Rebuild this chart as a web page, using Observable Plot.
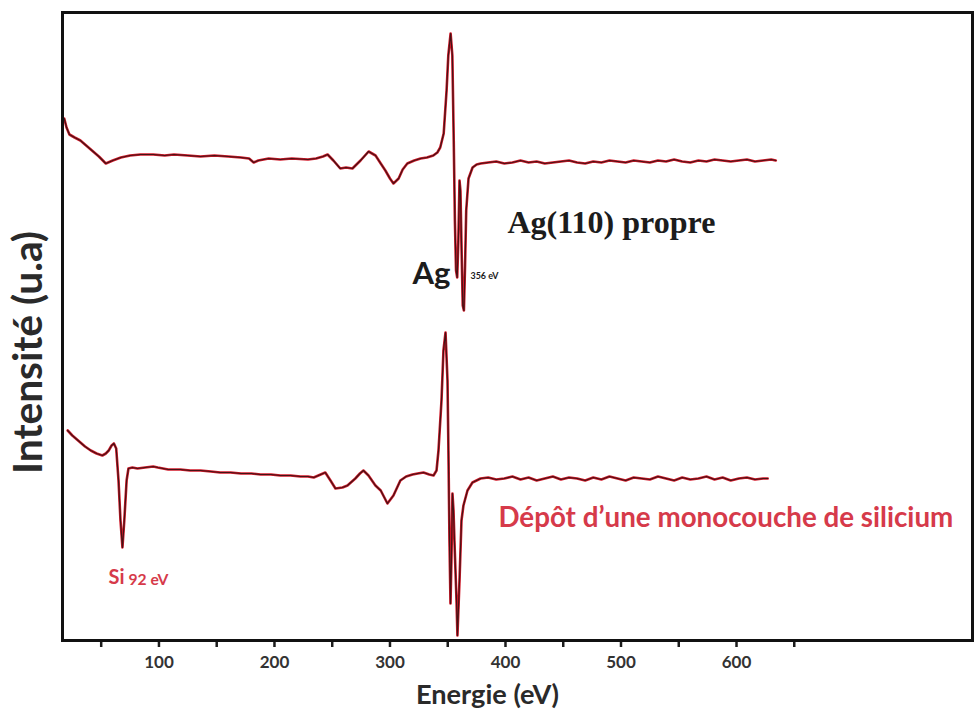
<!DOCTYPE html>
<html>
<head>
<meta charset="utf-8">
<script src="https://cdn.jsdelivr.net/npm/d3@7"></script>
<script src="https://cdn.jsdelivr.net/npm/@observablehq/plot@0.6"></script>
<style>
  html, body { margin: 0; padding: 0; background: #fff; }
  svg { display: block; }
</style>
</head>
<body>
<div id="chart"></div>
<script>
// ---- Data ----
// Upper spectrum: Ag(110) propre
const topEnergy = [18,20,22.5,27,32,37,42,48,54,60,67,75,84,95,105,113,125,136,148,160,171,178,182,186,195,205,215,229,236,242,246,251,257,262,267.5,274.5,281.5,287.5,292,296,300,303,307.5,311,315,321,326.5,332,337.5,341,343.5,346.5,349,350.5,352.5,354,355.2,356.2,357.2,358.2,359.2,360.2,361,362,363,364,365,366,368,371.5,375,378.5,385,392,399,406,413,420,427,434,441,448,455,462,469,476,483,490,497,504,511,518,525,532,539,546,553,560,567,574,581,588,595,602,609,616,623,630,634];
const topIntensity = [522,513,506,503,500,495,490,484,477,480,483,485,486,486,485,486,485,484,485,484,483,482,478,480,482,481,482,481,482,484,486,480,472,473,472,480,489,485,477,470,462,457,462,471,477,480,482,483,485,488,493,507,550,585,607,585,500,420,370,363,400,460,450,390,335,330,375,430,462,473,476,477,478,479,477,478,480,478,479,477,478,479,480,478,477,479,478,480,479,478,480,479,478,480,479,481,479,478,480,479,481,480,479,480,481,479,480,481,480];

// Lower spectrum: Dépôt d'une monocouche de silicium
const botEnergy = [21,25,29,32,36,41,46,51,54,56.5,59,61,63,65,66.7,68.4,70,72,73.6,77,81.4,88,95,99,108,118.6,127,136,145,153,162,171,180,188,197,205,214,222.5,229,234,240,244,248.5,252.8,258.9,263.2,270,274,277,281.4,287.4,292,297.8,303,309,314,319.5,324,329,334,337.7,340.3,342,344.6,346.3,348.1,349.8,350.6,351.5,352.4,353.2,354.1,355,355.8,357.6,358.4,360.2,361.9,363.6,367.1,371.4,378.4,385,392,399,406,413,420,427,434,441,448,455,462,469,476,483,490,497,504,511,518,525,532,539,546,553,560,567,574,581,588,595,602,609,616,623,627];
const botIntensity = [210,205,201,198,194,190,187,185,187,190,195,197,192,160,120,93,120,160,172,173,172,173,174,173,171,171,170,170,169,168,168,167,167,166,166,165,165,164,164,163,166,168,160,152,153,155,162,167,170,165,155,150,137,145,160,164,166,167,168,166,165,170,190,240,290,308,260,190,100,37,80,147,130,100,40,5,60,120,135,150,158,162,163,161,162,164,161,163,160,162,164,161,163,162,160,163,161,164,162,160,163,162,161,164,162,160,163,161,162,164,161,163,160,162,163,161,162,162];

// Axis ticks and labels
const xTicks = [50,100,150,200,250,300,350,400,450,500,550,600,650];
const xTickLabels = ["","100","","200","","300","","400","","500","","600",""];
const xTitle = "Energie (eV)";
const yTitle = "Intensité (u.a)";

// Annotations (text, energy, intensity)
const annoLabels = ["Ag(110) propre", "Ag", "356 eV", "Dépôt d’une monocouche de silicium", "Si", "92 eV"];
const annoEnergy = [401.7, 319.5, 369.7, 393.9, 56.3, 73.6];
const annoIntensity = [418, 366, 364, 122, 63, 61];

// ---- Build ----
const topData = topEnergy.map((E, i) => ({E, I: topIntensity[i]}));
const botData = botEnergy.map((E, i) => ({E, I: botIntensity[i]}));
const anno = annoLabels.map((t, i) => ({t, E: annoEnergy[i], I: annoIntensity[i]}));

const RED_LINE = "#d11a2a";
const DARK_LINE = "#2b1212";
const RED_TEXT = "#d63a4a";
const INK = "#1c1c1c";
const SANS = "Lato, 'Open Sans', sans-serif";
const SERIF = "'Liberation Serif', 'DejaVu Serif', serif";

const plot = Plot.plot({
  width: 974,
  height: 709,
  marginLeft: 62,
  marginRight: 2,
  marginTop: 12,
  marginBottom: 69,
  x: {domain: [16.5, 804.3], label: null},
  y: {domain: [0, 628], axis: null},
  style: {fontFamily: SANS, background: "#fff", color: INK},
  marks: [
    Plot.axisX({
      ticks: xTicks,
      tickFormat: d => xTickLabels[xTicks.indexOf(d)],
      tickSize: 7,
      tickPadding: 8,
      fontSize: 17,
      fontWeight: "bold",
      strokeWidth: 2.5,
      fill: "#333",
      label: null
    }),
    Plot.line(topData, {x: "E", y: "I", stroke: RED_LINE, strokeWidth: 2.6, curve: "linear"}),
    Plot.line(topData, {x: "E", y: "I", stroke: DARK_LINE, strokeWidth: 1.2, strokeOpacity: 0.85, curve: "linear"}),
    Plot.line(botData, {x: "E", y: "I", stroke: RED_LINE, strokeWidth: 2.6, curve: "linear"}),
    Plot.line(botData, {x: "E", y: "I", stroke: DARK_LINE, strokeWidth: 1.2, strokeOpacity: 0.85, curve: "linear"}),
    Plot.frame({stroke: "#111", strokeWidth: 3}),
    // axis titles
    Plot.text([xTitle], {x: 384.4, frameAnchor: "bottom", textAnchor: "middle", lineAnchor: "middle", dy: 55, fontSize: 28, fontWeight: "bold", fill: "#2a2a2a"}),
    Plot.text([yTitle], {frameAnchor: "left", textAnchor: "middle", lineAnchor: "middle", rotate: -90, dx: -34, dy: 26, fontSize: 36, fontWeight: "bold", fill: "#2a2a2a"}),
    // annotations
    Plot.text([anno[0]], {x: "E", y: "I", text: "t", textAnchor: "start", fontFamily: SERIF, fontWeight: "bold", fontSize: 30, fill: INK}),
    Plot.text([anno[1]], {x: "E", y: "I", text: "t", textAnchor: "start", fontWeight: "bold", fontSize: 26, fill: INK}),
    Plot.text([anno[2]], {x: "E", y: "I", text: "t", textAnchor: "start", fontWeight: "bold", fontSize: 11, fill: INK}),
    Plot.text([anno[3]], {x: "E", y: "I", text: "t", textAnchor: "start", fontWeight: "bold", fontSize: 25, fill: RED_TEXT}),
    Plot.text([anno[4]], {x: "E", y: "I", text: "t", textAnchor: "start", fontWeight: "bold", fontSize: 20, fill: RED_TEXT}),
    Plot.text([anno[5]], {x: "E", y: "I", text: "t", textAnchor: "start", fontWeight: "bold", fontSize: 12, fill: RED_TEXT})
  ]
});

document.getElementById("chart").appendChild(plot);

// fit some texts to the widths measured on the reference
const fitWidths = {
  "Intensité (u.a)": 243,
  "Energie (eV)": 143,
  "Ag(110) propre": 208,
  "Dépôt d’une monocouche de silicium": 455,
  "Ag": 38,
  "356 eV": 28,
  "92 eV": 40
};
plot.querySelectorAll("text").forEach(t => {
  const target = fitWidths[t.textContent];
  if (!target) return;
  const len = t.getComputedTextLength();
  if (!len) return;
  const fs = parseFloat(getComputedStyle(t).fontSize);
  t.style.fontSize = (fs * target / len).toFixed(2) + "px";
});
</script>
</body>
</html>
